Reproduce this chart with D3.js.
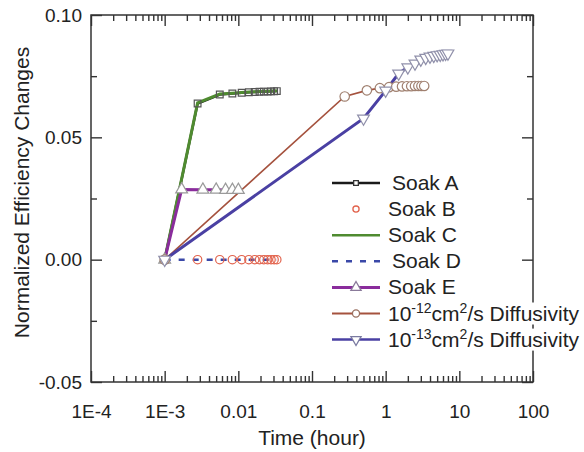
<!DOCTYPE html>
<html>
<head>
<meta charset="utf-8">
<script src="https://cdn.jsdelivr.net/npm/d3@7"></script>
<style>
  body { margin: 0; background: #fff; }
  text { font-family: "Liberation Sans", Arial, sans-serif; fill: #222; }
</style>
</head>
<body>
<svg id="chart"></svg>
<script>
// soak runs, 10 s steps (hours)
const soakTime = [0.001, 0.0028, 0.0056, 0.0083, 0.0111, 0.0139, 0.0167, 0.0194, 0.0222, 0.025, 0.0278, 0.0306, 0.0333];
const soakA = [0, 0.0638, 0.0675, 0.0679, 0.0682, 0.0684, 0.0685, 0.0686, 0.0687, 0.0687, 0.0688, 0.0688, 0.0689];
const soakB = [0, 0, 0, 0, 0, 0, 0, 0, 0, 0, 0, 0, 0];
const soakC = [0, 0.0641, 0.0677, 0.0680, 0.0683, 0.0685, 0.0686, 0.0687, 0.0688, 0.0688, 0.0689, 0.0689, 0.0690];
const soakD = [0, 0, 0, 0, 0, 0, 0, 0, 0, 0, 0, 0, 0];
const soakETime = [0.001, 0.0017, 0.0033, 0.005, 0.0067, 0.0083, 0.01];
const soakE = [0, 0.0287, 0.0286, 0.0286, 0.0285, 0.0285, 0.0285];
// simulated diffusivity curves
const diff12Time = [0.001, 0.278, 0.556, 0.833, 1.111, 1.389, 1.667, 1.944, 2.222, 2.5, 2.778, 3.056, 3.333];
const diff12 = [0, 0.0667, 0.0692, 0.0701, 0.0705, 0.0707, 0.0708, 0.0709, 0.0709, 0.071, 0.071, 0.071, 0.071];
const diff13Time = [0.001, 0.5, 1, 1.5, 2, 2.5, 3, 3.5, 4, 4.5, 5, 5.5, 6, 6.5, 7];
const diff13 = [0, 0.0577, 0.0691, 0.0761, 0.0786, 0.0802, 0.0818, 0.0825, 0.083, 0.0833, 0.0836, 0.0838, 0.084, 0.0842, 0.0843];

const xTicks = [1e-4, 1e-3, 0.01, 0.1, 1, 10, 100];
const xTickLabels = ['1E-4', '1E-3', '0.01', '0.1', '1', '10', '100'];
const yTicks = [-0.05, 0, 0.05, 0.10];
const yTickLabels = ['-0.05', '0.00', '0.05', '0.10'];
const yMinorTicks = [-0.025, 0.025, 0.075];

const legendLabels = [
    [['Soak A']],
    [['Soak B']],
    [['Soak C']],
    [['Soak D']],
    [['Soak E']],
    [['10'], ['-12', 'sup'], ['cm'], ['2', 'sup'], ['/s Diffusivity']],
    [['10'], ['-13', 'sup'], ['cm'], ['2', 'sup'], ['/s Diffusivity']]
];

const width = 584, height = 452;
const margin = {top: 15, right: 51, bottom: 70, left: 91};
const inner_width = width - margin.left - margin.right;
const inner_height = height - margin.top - margin.bottom;

const svg = d3.select('#chart')
    .attr('width', width)
    .attr('height', height);

const chart = svg.append('g')
    .attr('transform', `translate(${margin.left}, ${margin.top})`);

const xscale = d3.scaleLog()
    .domain([1e-4, 100])
    .range([0, inner_width]);

const yscale = d3.scaleLinear()
    .domain([-0.05, 0.10])
    .range([inner_height, 0]);

// minor ticks 2..9 per decade
let xMinor = [];
for (let i = 0; i < xTicks.length - 1; i++) {
    for (let k = 2; k <= 9; k++) xMinor.push(xTicks[i] * k);
}

const major = 11, minor = 6;

function styleAxis(g) {
    g.select('.domain').remove();
    g.selectAll('line').attr('stroke', '#333').attr('stroke-width', 1.4);
    g.selectAll('text').style('font-size', '19px').attr('fill', '#222');
}

// bottom
chart.append('g')
    .attr('transform', `translate(0, ${inner_height})`)
    .call(d3.axisBottom(xscale).tickValues(xTicks).tickSize(-major).tickPadding(23)
        .tickFormat((d, i) => xTickLabels[i]))
    .call(styleAxis);
chart.append('g')
    .attr('transform', `translate(0, ${inner_height})`)
    .call(d3.axisBottom(xscale).tickValues(xMinor).tickSize(-minor).tickFormat(''))
    .call(styleAxis);
// top
chart.append('g')
    .call(d3.axisTop(xscale).tickValues(xTicks).tickSize(-major).tickFormat(''))
    .call(styleAxis);
chart.append('g')
    .call(d3.axisTop(xscale).tickValues(xMinor).tickSize(-minor).tickFormat(''))
    .call(styleAxis);
// left
chart.append('g')
    .call(d3.axisLeft(yscale).tickValues(yTicks).tickSize(-major).tickPadding(9)
        .tickFormat((d, i) => yTickLabels[i]))
    .call(styleAxis);
chart.append('g')
    .call(d3.axisLeft(yscale).tickValues(yMinorTicks).tickSize(-minor).tickFormat(''))
    .call(styleAxis);
// right
chart.append('g')
    .attr('transform', `translate(${inner_width}, 0)`)
    .call(d3.axisRight(yscale).tickValues(yTicks).tickSize(-major).tickFormat(''))
    .call(styleAxis);
chart.append('g')
    .attr('transform', `translate(${inner_width}, 0)`)
    .call(d3.axisRight(yscale).tickValues(yMinorTicks).tickSize(-minor).tickFormat(''))
    .call(styleAxis);

chart.append('rect')
    .attr('width', inner_width)
    .attr('height', inner_height)
    .attr('fill', 'none')
    .attr('stroke', '#333')
    .attr('stroke-width', 1.5);

// axis titles
svg.append('text')
    .style('font-size', '21px')
    .attr('x', margin.left + inner_width / 2)
    .attr('y', 445)
    .attr('text-anchor', 'middle')
    .text('Time (hour)');

svg.append('text')
    .style('font-size', '21px')
    .attr('transform', `translate(29, ${margin.top + inner_height / 2 - 6}) rotate(-90)`)
    .attr('text-anchor', 'middle')
    .text('Normalized Efficiency Changes');

// series
const pts = (t, v) => t.map((d, i) => ({t: d, v: v[i]}));
const line = d3.line()
    .x(d => xscale(d.t))
    .y(d => yscale(d.v));

const lines = [
    {data: pts(soakTime, soakA), color: '#1a1a1a', w: 2.5},
    {data: pts(soakTime, soakC), color: '#4f8b30', w: 3},
    {data: pts(soakTime, soakD), color: '#3a48a8', w: 2.5, dash: '6,8'},
    {data: pts(soakETime, soakE), color: '#8a2c9c', w: 3},
    {data: pts(diff12Time, diff12), color: '#a5523e', w: 1.6},
    {data: pts(diff13Time, diff13), color: '#4a40a3', w: 3}
];

lines.forEach(s => {
    chart.append('path')
        .attr('d', line(s.data))
        .attr('fill', 'none')
        .attr('stroke', s.color)
        .attr('stroke-width', s.w)
        .attr('stroke-dasharray', s.dash || null);
});

const sym = {
    square: d3.symbol().type(d3.symbolSquare).size(45),
    circleS: d3.symbol().type(d3.symbolCircle).size(55),
    circle: d3.symbol().type(d3.symbolCircle).size(70),
    triUp: d3.symbol().type(d3.symbolTriangle).size(60),
    triDown: d3.symbol().type(d3.symbolTriangle).size(60)
};

const markers = [
    {data: pts(soakTime, soakA), sym: sym.square, stroke: '#555', fill: 'none', rot: 0},
    {data: pts(soakTime, soakB), sym: sym.circleS, stroke: '#e2644e', fill: 'none', rot: 0},
    {data: pts(soakETime, soakE), sym: sym.triUp, stroke: '#9a9a9a', fill: '#fff', rot: 0},
    {data: pts(diff12Time, diff12), sym: sym.circle, stroke: '#a08070', fill: '#fff', rot: 0},
    {data: pts(diff13Time, diff13), sym: sym.triDown, stroke: '#9090aa', fill: '#fff', rot: 180}
];

markers.forEach(m => {
    chart.append('g').selectAll('path')
        .data(m.data)
        .join('path')
        .attr('d', m.sym())
        .attr('transform', d => `translate(${xscale(d.t)}, ${yscale(d.v)}) rotate(${m.rot})`)
        .attr('fill', m.fill)
        .attr('stroke', m.stroke)
        .attr('stroke-width', 1.2);
});

// legend
const legendStyle = [
    {line: '#1a1a1a', w: 2.5, marker: 'square', mstroke: '#333'},
    {line: null, marker: 'circleS', mstroke: '#e2644e'},
    {line: '#4f8b30', w: 2.5},
    {line: '#3a48a8', w: 2.5, dash: '6,8'},
    {line: '#8a2c9c', w: 3, marker: 'triUp', mstroke: '#8a7a9a'},
    {line: '#a5523e', w: 2, marker: 'circle', mstroke: '#9a7060'},
    {line: '#4a40a3', w: 2.5, marker: 'triDown', mstroke: '#7a7aa0'}
];
const legendIndent = [4, 0, 0, 4, 0, 0, 0];
const lx0 = 332, lx1 = 380, ly0 = 183, lstep = 26.1;

legendLabels.forEach((parts, i) => {
    const st = legendStyle[i];
    const yy = ly0 + i * lstep;
    const g = svg.append('g');
    const bg = g.append('rect').attr('fill', '#fff');
    const t = g.append('text')
        .attr('x', 388 + legendIndent[i])
        .attr('y', yy + 7)
        .style('font-size', '21px');
    let shift = 0;
    parts.forEach(p => {
        const target = p[1] === 'sup' ? -8 : 0;
        t.append('tspan')
            .attr('dy', target - shift)
            .style('font-size', p[1] === 'sup' ? '14px' : null)
            .text(p[0]);
        shift = target;
    });
    const bb = t.node().getBBox();
    bg.attr('x', bb.x).attr('y', yy - 11).attr('width', bb.width + 2).attr('height', 22);

    if (st.line) {
        g.append('line')
            .attr('x1', lx0).attr('x2', lx1)
            .attr('y1', yy).attr('y2', yy)
            .attr('stroke', st.line)
            .attr('stroke-width', st.w)
            .attr('stroke-dasharray', st.dash || null);
    }
    if (st.marker) {
        const sz = {square: 22, circleS: 30, circle: 40, triUp: 45, triDown: 45}[st.marker];
        g.append('path')
            .attr('d', d3.symbol().type(st.marker.startsWith('tri') ? d3.symbolTriangle : (st.marker === 'square' ? d3.symbolSquare : d3.symbolCircle)).size(sz)())
            .attr('transform', `translate(${(lx0 + lx1) / 2}, ${yy}) rotate(${st.marker === 'triDown' ? 180 : 0})`)
            .attr('fill', '#fff')
            .attr('stroke', st.mstroke)
            .attr('stroke-width', 1.3);
    }
});
</script>
</body>
</html>
